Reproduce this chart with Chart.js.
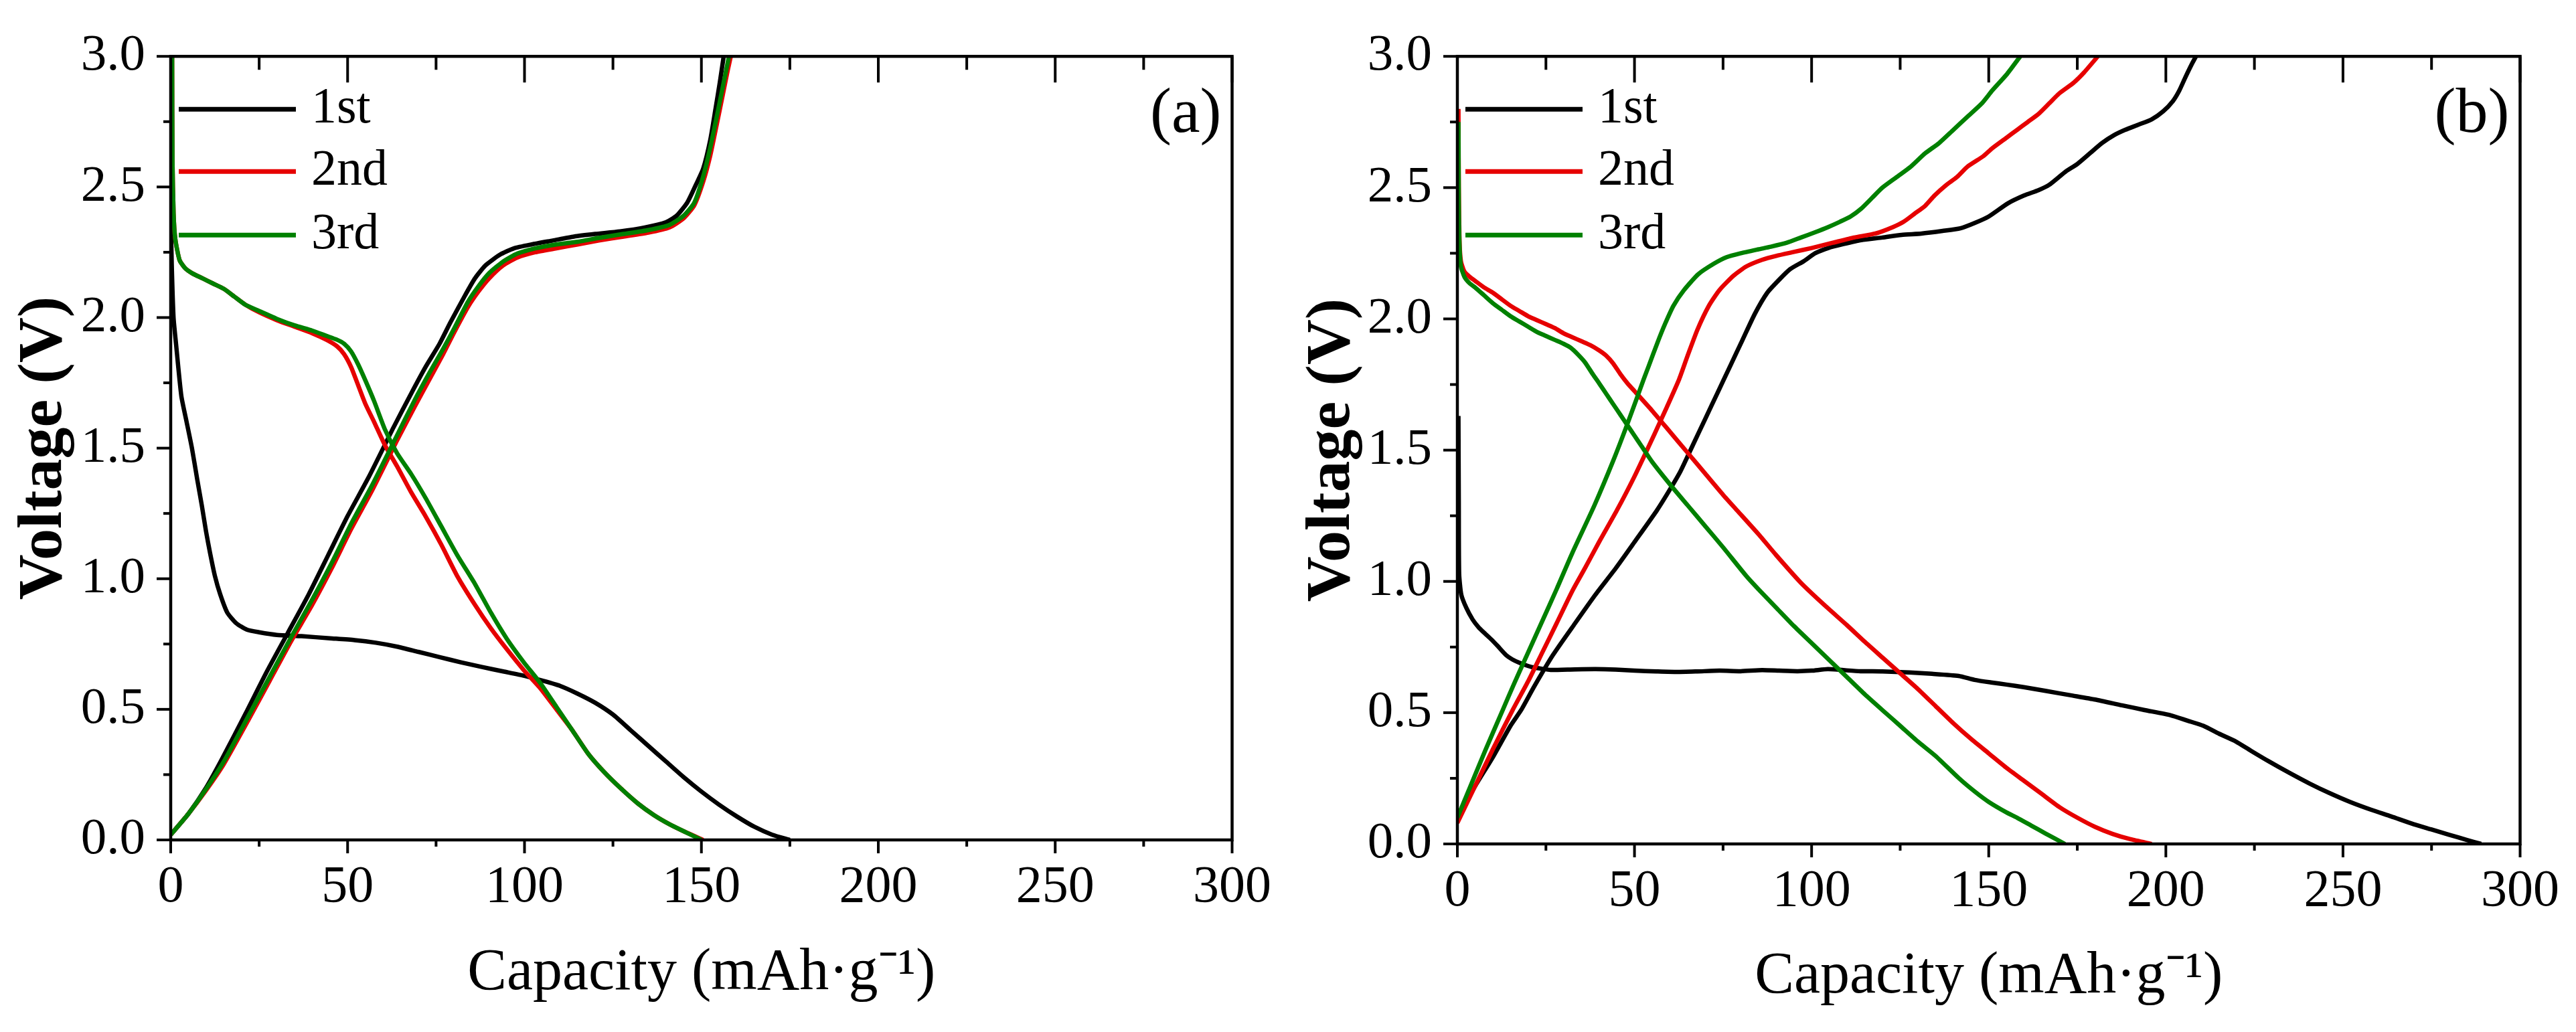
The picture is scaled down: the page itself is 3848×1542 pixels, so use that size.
<!DOCTYPE html>
<html><head><meta charset="utf-8">
<script src="https://cdn.jsdelivr.net/npm/chart.js@4.4.1/dist/chart.umd.min.js"></script>
<style>
html,body{margin:0;padding:0;background:#fff;width:3848px;height:1542px;overflow:hidden}
.panel{position:absolute;top:0;width:1924px;height:1542px}
canvas{display:block}
</style></head><body>
<div class="panel" style="left:0"><canvas id="ca" width="1924" height="1542"></canvas></div>
<div class="panel" style="left:1924px"><canvas id="cb" width="1924" height="1542"></canvas></div>
<script>
// ---------- labels / ticks ----------
const cycleLabels = ['1st', '2nd', '3rd'];
const xTickValues = [0, 50, 100, 150, 200, 250, 300];
const yTickValues = [0.0, 0.5, 1.0, 1.5, 2.0, 2.5, 3.0];

// ---------- data: panel (a) ----------
const aDis1Cap = [0,0.3,0.8,1.5,3,4.5,6,7.5,8.8,10,11.1,12.5,14,16,18.5,21.5,25,30,37,45,52,58,64,70,76,82,88,94,100,105,110,115,120,125,130,135,140,145,150,155,160,165,170,175];
const aDis1V   = [2.40,2.2,2.0,1.9,1.7,1.6,1.5,1.38,1.28,1.18,1.1,1.01,0.94,0.87,0.83,0.805,0.795,0.785,0.78,0.772,0.765,0.755,0.74,0.72,0.70,0.68,0.662,0.645,0.628,0.61,0.59,0.56,0.525,0.48,0.42,0.36,0.30,0.24,0.185,0.135,0.09,0.05,0.02,0];
const aChg1Cap = [0,5,10,14.5,21.4,27,33,39,44.5,50,56,63,68,72,76,79,83,86,89,93,97,102,108,114,120,127,134,140,143,146,148.5,150.5,152.5,154,155.2,156.3];
const aChg1V   = [0.02,0.1,0.2,0.31,0.49,0.64,0.79,0.94,1.09,1.24,1.39,1.58,1.71,1.81,1.9,1.98,2.08,2.15,2.2,2.24,2.265,2.28,2.295,2.31,2.32,2.33,2.345,2.365,2.39,2.44,2.51,2.57,2.68,2.8,2.9,3.0];
const aDis2Cap = [0.4,0.5,0.8,1.3,2.5,4,6,9,12,15,18,21,25,30,35,40,44,47,49,51,53,55,57.5,60.6,64,68,72,76.5,81,86,90.5,95,99.8,104.5,109,113.5,118,122.5,127,132,136.6,141,145.5,150.5];
const aDis2V   = [3.0,2.6,2.4,2.3,2.22,2.19,2.17,2.15,2.13,2.11,2.08,2.05,2.02,1.99,1.965,1.94,1.915,1.89,1.86,1.81,1.74,1.67,1.6,1.51,1.43,1.33,1.24,1.13,1.01,0.9,0.81,0.73,0.65,0.58,0.5,0.42,0.33,0.26,0.2,0.14,0.095,0.06,0.03,0];
const aChg2Cap = [0,5,10,15,22,28,34,40,45.5,51,57,64,69,73,77,80,84,87,90,94,98,103,109,115,121,128,135,141,145,148,150.5,152.5,154.5,156,157.5,158.3];
const aChg2V   = [0.02,0.1,0.19,0.29,0.46,0.61,0.76,0.9,1.04,1.19,1.34,1.53,1.66,1.76,1.86,1.94,2.04,2.1,2.15,2.2,2.23,2.25,2.265,2.28,2.295,2.31,2.325,2.345,2.38,2.43,2.52,2.62,2.75,2.85,2.95,3.0];
const aDis3Cap = [0.4,0.5,0.8,1.3,2.5,4,6,9,12,15,18,21,25,30,35,40,44,47,49,51,53,55,57.5,60.6,64,68,72,76.5,81,86,90.5,95,99.8,104.5,109,113.5,118,122.5,127,132,136.6,141,145.5,150];
const aDis3V   = [3.0,2.6,2.4,2.3,2.22,2.19,2.17,2.15,2.13,2.11,2.08,2.05,2.025,1.995,1.97,1.95,1.93,1.915,1.9,1.87,1.82,1.76,1.68,1.57,1.48,1.4,1.31,1.2,1.09,0.98,0.87,0.77,0.68,0.6,0.51,0.42,0.33,0.26,0.2,0.14,0.095,0.06,0.03,0];
const aChg3Cap = [0,5,10,15,22,28,34,40,45.5,51,57,64,69,73,77,80,84,87,90,94,98,103,109,115,121,128,135,141,145,148,150.5,152.5,154.5,156,157.2,157.8];
const aChg3V   = [0.02,0.1,0.195,0.3,0.475,0.625,0.775,0.92,1.06,1.21,1.36,1.55,1.685,1.785,1.88,1.955,2.06,2.12,2.17,2.215,2.245,2.265,2.28,2.29,2.305,2.32,2.335,2.355,2.39,2.44,2.54,2.65,2.78,2.88,2.96,3.0];

// ---------- data: panel (b) ----------
const bDis1Cap = [0.3,0.4,0.5,1.1,2.5,4.3,6,7.5,9.5,11.3,13.7,15.5,17.5,19.5,21.2,24,26.3,33.2,39,44.7,50,56.2,62,67.7,74,80,86,90.8,96,100,104.6,109,113.8,120,127.6,134,141.5,146,150.7,155,159.9,166,173.7,180,187.6,194,201.4,206,210.6,215,219.8,224,229,235,240.6,246,252,258,263.6,270,275,280,285,289];
const bDis1V   = [1.63,1.3,1.03,0.95,0.9,0.855,0.825,0.805,0.78,0.755,0.72,0.703,0.69,0.68,0.673,0.667,0.663,0.665,0.666,0.664,0.66,0.657,0.655,0.657,0.66,0.658,0.662,0.66,0.658,0.66,0.666,0.662,0.658,0.657,0.653,0.648,0.64,0.625,0.615,0.607,0.597,0.583,0.565,0.55,0.528,0.51,0.49,0.47,0.45,0.42,0.39,0.355,0.315,0.27,0.23,0.195,0.16,0.13,0.105,0.075,0.055,0.035,0.015,0];
const bChg1Cap = [0,5,10,15,18,21.7,27,33.2,39,44.7,50,56.3,60,63,66.5,70,73.5,77,80.5,84,87.5,90.9,94,97.8,101,104.7,109,114,120,125.4,131,137,142,146,150,155.4,160,164,167,171.6,175,178.5,182,185.4,188.5,192.3,196,199.2,202,203.8,205.5,207.3,208.5];
const bChg1V   = [0.1,0.22,0.33,0.45,0.51,0.6,0.72,0.84,0.95,1.05,1.15,1.27,1.35,1.42,1.52,1.62,1.72,1.82,1.92,2.02,2.1,2.15,2.19,2.22,2.25,2.27,2.285,2.3,2.31,2.32,2.325,2.335,2.345,2.365,2.39,2.44,2.47,2.49,2.51,2.56,2.59,2.63,2.67,2.7,2.72,2.74,2.76,2.79,2.83,2.87,2.92,2.97,3.0];
const bDis2Cap = [0.3,0.4,0.6,1,2,3.5,5,7.5,10,12.5,15,17.5,20,22.5,25,27.5,30,32.5,35,37.5,40,42,44,46,48,50,55,60,65,70,75,79,85,90,96.6,100,105,110,115,120,125,130,135,140,145,150,155,160,165,170,175,180,185,190,196];
const bDis2V   = [2.8,2.5,2.3,2.22,2.18,2.16,2.145,2.12,2.1,2.075,2.05,2.03,2.01,1.995,1.98,1.965,1.945,1.93,1.915,1.9,1.88,1.86,1.83,1.79,1.755,1.725,1.65,1.57,1.49,1.41,1.33,1.27,1.18,1.1,1.0,0.955,0.893,0.833,0.77,0.71,0.65,0.59,0.525,0.46,0.4,0.345,0.29,0.24,0.19,0.14,0.1,0.065,0.038,0.018,0];
const bChg2Cap = [0,5,10,15.6,20,24,28,32.5,36,40,45,50,55.6,59,62.6,65,67.8,71,74,78,81.6,86,90,95,100,106,112,118,123,126,129,132,134.7,138,141,144,148.5,151,155,158,161,164,167,170,174,177,180.8];
const bChg2V   = [0.08,0.22,0.36,0.51,0.62,0.73,0.84,0.965,1.05,1.15,1.27,1.4,1.56,1.66,1.77,1.86,1.96,2.05,2.11,2.165,2.2,2.225,2.24,2.255,2.27,2.29,2.31,2.325,2.35,2.37,2.4,2.43,2.47,2.51,2.54,2.58,2.62,2.65,2.69,2.72,2.75,2.78,2.82,2.86,2.9,2.94,3.0];
const bDis3Cap = [0.3,0.4,0.6,1,2,3.5,5,7.5,10,12.5,15,17.5,20,22.5,25,27.5,30,32,34,36,38.2,40,42,44,46,48,50,52,55,60,65,70,75,81.6,85,90,95,100,105,110,115,120.8,125,130,135,141.6,146,150,155,158,162,166,171.5];
const bDis3V   = [2.75,2.45,2.28,2.2,2.16,2.135,2.12,2.09,2.06,2.035,2.01,1.99,1.97,1.95,1.935,1.92,1.905,1.89,1.865,1.835,1.79,1.755,1.715,1.675,1.635,1.595,1.555,1.515,1.455,1.37,1.29,1.21,1.13,1.02,0.97,0.9,0.83,0.765,0.7,0.635,0.57,0.5,0.45,0.39,0.335,0.25,0.2,0.16,0.12,0.1,0.07,0.04,0];
const bChg3Cap = [0,4,8,12.8,16,20,24,28,32.5,38.7,44,48,52.6,54,56.5,58.6,61,64,68,72.4,76,80,85,88.5,93,97,101,104.7,108,111,114,117,120,124,128,132,136,140,144,148,151,155,158.9];
const bChg3V   = [0.1,0.23,0.36,0.51,0.61,0.73,0.85,0.97,1.11,1.29,1.46,1.6,1.77,1.82,1.91,1.98,2.05,2.11,2.17,2.21,2.235,2.25,2.265,2.275,2.29,2.31,2.33,2.35,2.37,2.39,2.42,2.46,2.5,2.54,2.58,2.63,2.67,2.72,2.77,2.82,2.87,2.93,3.0];

// ---------- styling ----------
const COLORS = ['#000000', '#e60000', '#008000'];
const FONT = '"Liberation Serif", "Times New Roman", serif';
const pts = (xs, ys) => xs.map((x, i) => ({x: x, y: ys[i]}));

function makeDatasets(curves) {
  const ds = [];
  curves.forEach((c, i) => {
    const common = {borderColor: COLORS[i], backgroundColor: COLORS[i], borderWidth: 6.5,
      pointRadius: 0, showLine: true, tension: 0.2, order: 3 - i};
    ds.push(Object.assign({label: cycleLabels[i], data: pts(c[0], c[1])}, common));
    ds.push(Object.assign({label: cycleLabels[i] + ' charge', data: pts(c[2], c[3])}, common));
  });
  return ds;
}

const decor = {
  id: 'decor',
  afterDraw(chart, args, o) {
    const {ctx, chartArea: a, scales: {x, y}} = chart;
    ctx.save();
    ctx.strokeStyle = '#000';
    ctx.lineWidth = 4.5;
    ctx.lineCap = 'butt';
    ctx.strokeRect(a.left, a.top, a.right - a.left, a.bottom - a.top);
    ctx.lineWidth = 4;
    for (let i = 0; i <= 12; i++) {
      const v = i * 25, major = i % 2 === 0, px = x.getPixelForValue(v);
      ctx.beginPath();
      ctx.moveTo(px, a.bottom); ctx.lineTo(px, a.bottom + (major ? 20 : 10));
      ctx.moveTo(px, a.top); ctx.lineTo(px, a.top + (major ? 39 : 20));
      ctx.stroke();
    }
    for (let i = 0; i <= 12; i++) {
      const v = i * 0.25, major = i % 2 === 0, py = y.getPixelForValue(v);
      ctx.beginPath();
      ctx.moveTo(a.left, py); ctx.lineTo(a.left - (major ? 21 : 11), py);
      ctx.stroke();
    }
    ctx.font = '76px ' + FONT;
    ctx.textBaseline = 'middle';
    ctx.textAlign = 'left';
    ctx.fillStyle = '#000';
    const rows = [79, 172, 267];
    cycleLabels.forEach((lab, i) => {
      const ly = a.top + rows[i];
      ctx.strokeStyle = COLORS[i];
      ctx.lineWidth = 7;
      ctx.beginPath();
      ctx.moveTo(a.left + 12, ly); ctx.lineTo(a.left + 187, ly);
      ctx.stroke();
      ctx.fillText(lab, a.left + 210, ly);
    });
    ctx.font = '96px ' + FONT;
    ctx.textAlign = 'right';
    ctx.fillText(o.tag, a.right - 16, a.top + 88);
    ctx.restore();
  }
};

function makeChart(id, curves, geo, tag) {
  const W = 1924, H = 1542;
  return new Chart(document.getElementById(id), {
    type: 'scatter',
    data: {datasets: makeDatasets(curves)},
    plugins: [decor],
    options: {
      responsive: false, animation: false, devicePixelRatio: 1,
      layout: {padding: {left: 0, top: geo.top, right: W - geo.right, bottom: 0}},
      plugins: {legend: {display: false}, tooltip: {enabled: false}, decor: {tag: tag}},
      scales: {
        x: {
          type: 'linear', min: 0, max: 300,
          afterFit: s => { s.height = H - geo.bottom; },
          afterBuildTicks: s => { s.ticks = xTickValues.map(v => ({value: v})); },
          grid: {display: false, drawTicks: false},
          border: {display: false},
          ticks: {color: '#000', font: {family: FONT, size: 78}, padding: 25,
                  autoSkip: false, maxRotation: 0, callback: v => String(v)},
          title: {display: true, text: 'Capacity (mAh·g⁻¹)', color: '#000',
                  font: {family: FONT, size: 88}, padding: {top: 0, bottom: geo.xtPad}}
        },
        y: {
          type: 'linear', min: 0, max: 3,
          afterFit: s => { s.width = geo.left; },
          afterBuildTicks: s => { s.ticks = yTickValues.map(v => ({value: v})); },
          grid: {display: false, drawTicks: false},
          border: {display: false},
          ticks: {color: '#000', font: {family: FONT, size: 77}, padding: 38,
                  autoSkip: false, callback: v => Number(v).toFixed(1)},
          title: {display: true, text: 'Voltage (V)', color: '#000',
                  font: {family: FONT, size: 94, weight: 'bold'}, padding: {top: 10, bottom: 0}}
        }
      }
    }
  });
}

makeChart('ca', [
  [aDis1Cap, aDis1V, aChg1Cap, aChg1V],
  [aDis2Cap, aDis2V, aChg2Cap, aChg2V],
  [aDis3Cap, aDis3V, aChg3Cap, aChg3V]
], {left: 255, right: 1852, top: 71, bottom: 1255, xtPad: 34}, '(a)');

makeChart('cb', [
  [bDis1Cap, bDis1V, bChg1Cap, bChg1V],
  [bDis2Cap, bDis2V, bChg2Cap, bChg2V],
  [bDis3Cap, bDis3V, bChg3Cap, bChg3V]
], {left: 253, right: 1849, top: 76, bottom: 1261, xtPad: 29}, '(b)');
</script>
</body></html>
